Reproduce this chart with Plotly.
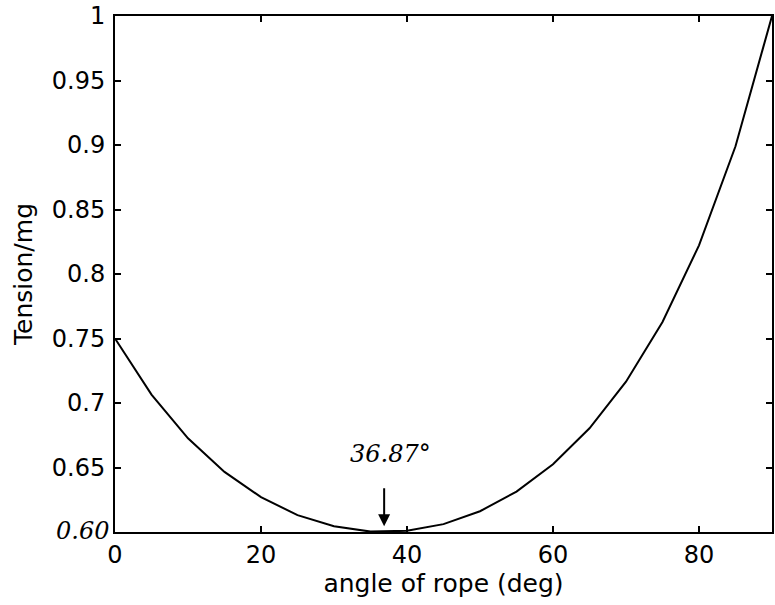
import plotly.graph_objects as go

# Data
angle_deg = [0, 5, 10, 15, 20, 25, 30, 35, 40, 45, 50, 55, 60, 65, 70, 75, 80, 85, 90]
tension_mg = [0.750, 0.7065, 0.6726, 0.6466, 0.6270, 0.6131, 0.6044, 0.6003, 0.6009,
              0.6061, 0.6161, 0.6313, 0.6525, 0.6804, 0.7165, 0.7628, 0.8222, 0.8990, 1.000]

x_ticks = [0, 20, 40, 60, 80]
y_ticks = [0.65, 0.7, 0.75, 0.8, 0.85, 0.9, 0.95, 1.0]
y_tick_text = ["0.65", "0.7", "0.75", "0.8", "0.85", "0.9", "0.95", "1"]
min_angle = 36.87
min_label = "36.87°"
bottom_label = "0.60"

FONT = "DejaVu Sans"

fig = go.Figure()
fig.add_trace(go.Scatter(x=angle_deg, y=tension_mg, mode="lines",
                         line=dict(color="black", width=2), showlegend=False,
                         hoverinfo="skip", cliponaxis=False))

axis_common = dict(showline=True, linecolor="black", linewidth=2, mirror="ticks",
                   ticks="inside", ticklen=6, tickwidth=1.5, tickcolor="black",
                   showgrid=False, zeroline=False,
                   tickfont=dict(family=FONT, size=24, color="black"))

fig.update_xaxes(range=[0, 90], tickvals=x_ticks, ticktext=[str(v) for v in x_ticks],
                 title=dict(text="angle of rope (deg)", font=dict(family=FONT, size=25, color="black"),
                            standoff=6),
                 **axis_common)
fig.update_yaxes(range=[0.6, 1.0], tickvals=y_ticks, ticktext=y_tick_text,
                 ticklabelstandoff=3,
                 title=dict(text="Tension/mg", font=dict(family=FONT, size=25, color="black"),
                            standoff=12),
                 **axis_common)

# handwritten-style annotations
fig.add_annotation(x=0, y=0.6, xref="x", yref="y", text=bottom_label, showarrow=False,
                   xanchor="right", yanchor="middle", xshift=-4, yshift=1,
                   font=dict(family="DejaVu Serif", size=24, color="black", style="italic"))
fig.add_annotation(x=min_angle, y=0.6045, xref="x", yref="y", ax=min_angle, ay=0.635,
                   axref="x", ayref="y", text="", showarrow=True, arrowhead=2,
                   arrowsize=1.2, arrowwidth=2, arrowcolor="black")
fig.add_annotation(x=min_angle, y=0.6605, xref="x", yref="y", text=min_label, showarrow=False,
                   xanchor="center", yanchor="middle", xshift=6,
                   font=dict(family="DejaVu Serif", size=24, color="black", style="italic"))

fig.update_layout(width=775, height=605, plot_bgcolor="white", paper_bgcolor="white",
                  margin=dict(l=115, r=3, t=16, b=73, autoexpand=False))

fig.write_html("out.html", config={"displayModeBar": False},
               post_script="document.body.style.margin='0px';document.body.style.overflow='hidden';")
